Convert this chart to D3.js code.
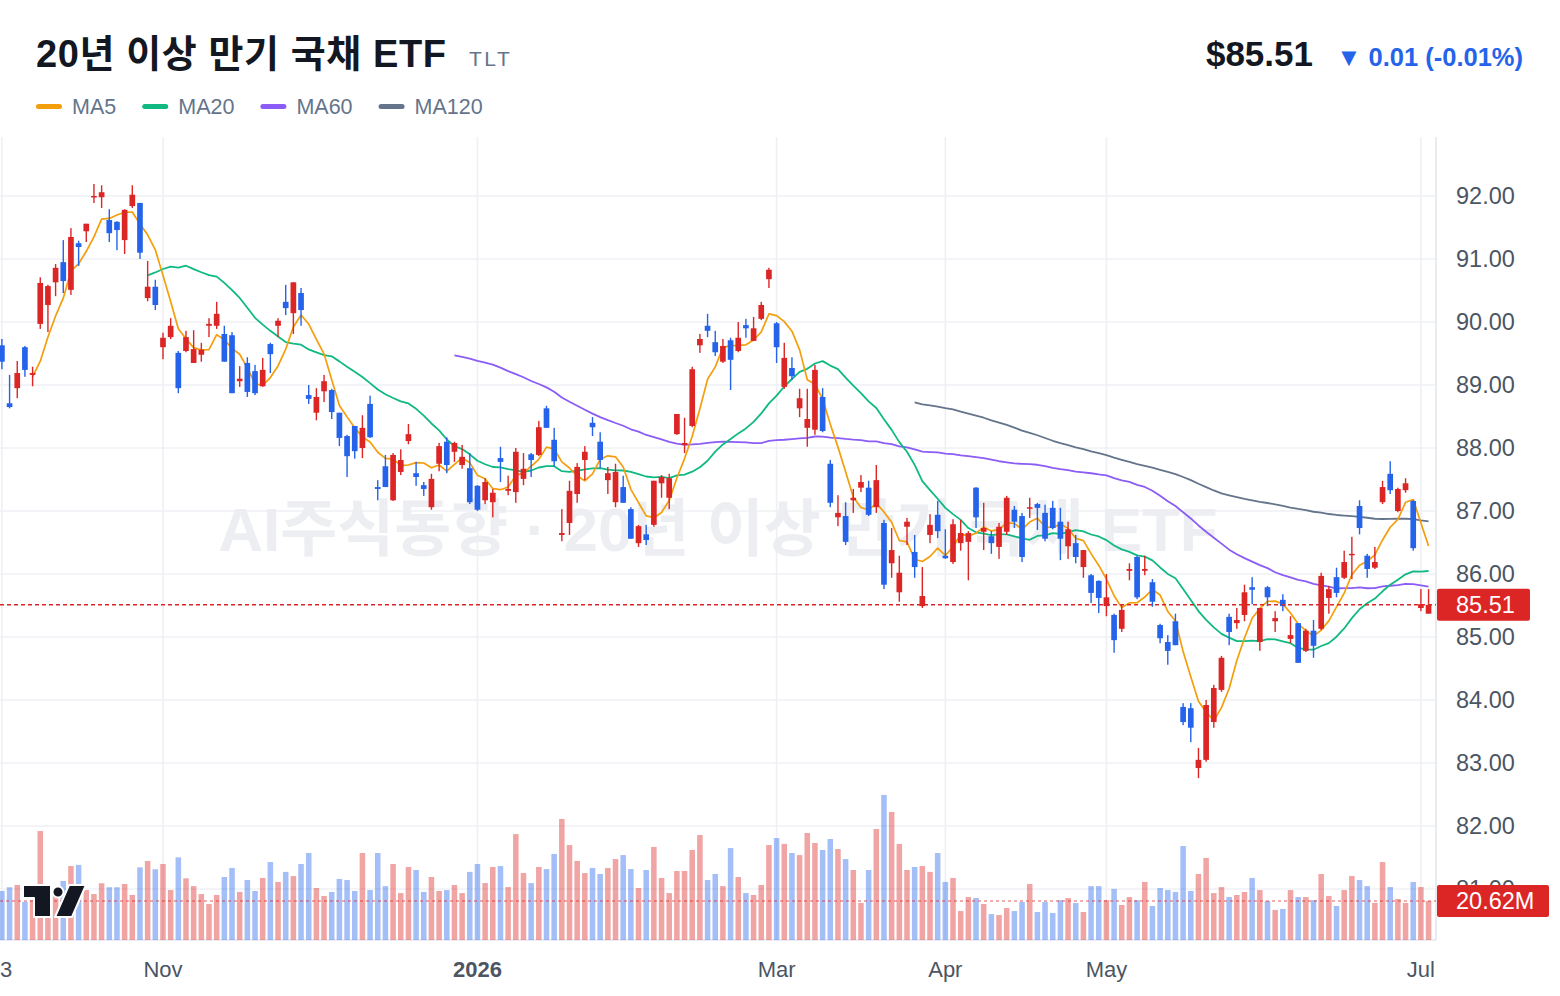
<!DOCTYPE html>
<html lang="ko">
<head>
<meta charset="UTF-8">
<title>TLT</title>
<script src="https://d3js.org/d3.v7.min.js"></script>
<style>
  html, body { margin: 0; padding: 0; background: #fff; }
  svg { display: block; font-family: "Liberation Sans", Arial, "Noto Sans CJK KR", sans-serif; }
  .grid line { stroke: #eef0f4; stroke-width: 1.6; }
  .ylab { fill: #4b5563; font-size: 23.5px; }
  .xlab { fill: #4b5563; font-size: 22px; }
</style>
</head>
<body>
<div id="chart"></div>
<script>
// daily candles, Oct 3 2025 .. Jul 2 2026
const open = [89.63,88.71,88.95,89.60,89.16,89.97,90.27,90.63,90.95,90.51,91.25,91.44,91.98,91.98,91.62,91.59,91.30,91.84,91.89,90.38,
  90.56,89.60,89.76,89.51,89.54,89.35,89.48,89.94,89.94,89.81,89.79,89.06,89.35,89.22,88.98,89.65,89.94,90.32,90.14,90.46,
  88.84,88.56,88.90,88.92,88.56,88.19,88.35,88.00,88.70,87.38,87.71,87.17,87.62,88.11,87.60,87.41,87.06,87.75,88.10,87.94,
  87.73,87.68,87.40,87.17,87.14,87.84,87.32,87.30,87.51,87.90,87.89,88.63,88.13,86.62,86.81,87.27,87.81,88.40,88.10,87.49,
  87.14,87.38,87.03,86.49,86.63,86.78,87.44,87.21,88.22,88.05,88.35,89.63,89.94,89.68,89.37,89.71,89.54,89.95,89.70,90.05,
  90.68,89.98,88.97,89.27,88.63,88.32,88.29,88.81,87.75,86.90,86.92,87.17,87.37,87.37,87.06,86.81,86.17,85.71,86.75,86.35,
  85.49,86.62,86.94,86.29,86.19,86.49,86.51,87.37,86.67,86.60,86.43,86.67,87.02,86.92,87.05,87.11,86.97,87.05,86.83,86.44,
  86.49,86.11,85.98,85.89,85.49,85.35,85.13,86.05,86.27,86.05,85.87,85.19,84.92,85.25,83.89,83.87,82.92,83.05,83.65,84.16,
  85.32,85.22,85.35,85.79,84.92,85.79,85.25,85.59,84.97,85.22,84.78,85.10,85.13,85.62,85.95,85.94,86.30,87.08,86.29,86.10,
  87.14,87.59,87.00,87.33,87.16,85.46,85.37];
const high = [89.73,89.16,89.38,89.62,89.29,90.71,90.59,90.92,91.30,91.49,91.29,91.56,92.19,92.17,91.79,91.60,91.79,92.17,91.89,90.97,
  90.67,89.83,90.06,89.54,89.86,89.87,89.67,90.06,90.32,89.94,89.84,89.30,89.44,89.32,89.43,89.67,90.06,90.59,90.63,90.54,
  89.00,88.95,89.16,88.94,88.56,88.21,88.35,88.52,88.83,87.49,87.89,87.92,87.98,88.38,87.78,87.46,87.59,88.08,88.17,88.10,
  88.05,87.92,87.41,87.52,87.35,88.02,87.56,88.00,87.92,87.92,88.43,88.67,88.32,87.03,87.48,87.76,88.03,88.49,88.25,87.70,
  87.75,87.56,87.06,86.78,86.78,87.48,87.57,87.59,88.54,88.48,89.29,89.81,90.13,89.86,89.73,89.75,90.00,90.05,90.08,90.32,
  90.86,90.00,89.67,89.44,88.94,88.94,89.32,88.95,87.81,87.25,87.14,87.35,87.57,87.48,87.73,86.86,86.73,86.29,86.89,86.62,
  86.11,86.95,87.16,86.71,86.87,86.86,86.68,87.38,87.13,86.68,86.81,87.24,87.08,86.97,87.21,87.13,87.10,87.16,87.05,86.83,
  86.62,86.38,86.00,85.90,86.00,85.37,85.52,86.17,86.29,86.29,85.92,85.21,85.03,85.37,83.95,83.95,83.24,84.00,84.24,84.70,
  85.37,85.46,85.83,85.95,85.46,85.81,85.41,85.68,85.33,85.22,85.13,85.27,86.02,85.81,86.10,86.37,86.59,87.17,86.32,86.43,
  87.48,87.79,87.37,87.52,87.17,85.76,85.76];
const low = [89.25,88.63,88.79,89.13,88.98,89.89,89.84,90.41,90.46,90.43,90.89,91.27,91.89,91.81,91.27,91.14,91.08,91.81,91.00,90.33,
  90.19,89.41,89.73,88.87,89.52,89.35,89.37,89.76,89.89,89.37,88.87,88.97,88.81,88.84,88.97,89.19,89.76,90.11,89.81,89.94,
  88.70,88.44,88.73,88.46,88.03,87.54,87.83,87.84,88.16,87.17,87.38,87.16,87.57,88.06,87.40,87.24,87.02,87.63,87.60,87.78,
  87.67,87.11,87.00,87.11,86.90,87.46,87.25,87.13,87.41,87.54,87.87,88.32,87.71,86.52,86.62,87.13,87.49,88.19,87.68,87.27,
  87.06,87.13,86.56,86.43,86.46,86.75,87.21,87.03,88.21,87.92,88.33,89.51,89.76,89.46,89.35,88.92,89.52,89.75,89.70,90.03,
  90.54,89.35,88.94,89.08,88.49,88.02,88.21,88.25,87.06,86.76,86.46,86.97,87.30,86.92,86.97,85.76,85.94,85.56,86.46,85.94,
  85.46,86.49,86.57,86.24,86.16,86.37,85.90,86.73,86.38,86.32,86.24,86.62,86.73,86.19,86.89,86.70,86.52,86.71,86.22,86.24,
  86.17,85.94,85.54,85.38,85.33,84.75,85.08,85.90,85.60,85.98,85.48,84.90,84.56,84.87,83.60,83.33,82.76,83.02,83.56,84.13,
  84.87,85.13,85.25,85.52,84.78,85.49,85.08,85.41,84.90,84.59,84.76,84.67,85.11,85.37,85.63,85.92,85.92,86.63,85.94,86.08,
  87.11,87.27,86.98,87.29,86.37,85.41,85.37];
const close = [89.37,88.65,89.19,89.24,89.19,90.62,90.57,90.86,90.65,91.35,91.19,91.56,92.00,92.06,91.41,91.46,91.78,92.02,91.10,90.56,
  90.27,89.75,89.94,88.95,89.76,89.57,89.56,89.97,90.13,89.37,88.87,89.10,88.89,88.87,89.24,89.49,90.02,90.22,90.63,90.19,
  88.78,88.81,89.06,88.57,88.16,87.87,87.95,88.32,88.17,87.35,87.38,87.89,87.81,88.22,87.54,87.35,87.51,88.03,87.73,88.08,
  87.86,87.14,87.02,87.46,87.29,87.78,87.35,87.94,87.67,87.81,88.33,88.32,87.79,86.65,87.32,87.70,87.94,88.33,87.81,87.60,
  87.62,87.13,86.56,86.76,86.54,87.48,87.54,87.52,88.54,88.08,89.25,89.73,89.86,89.52,89.62,89.40,89.75,89.90,89.90,90.27,
  90.83,89.60,89.43,89.14,88.79,88.46,89.24,88.27,87.13,86.97,86.51,87.21,87.46,86.94,87.49,85.83,86.38,86.02,86.83,86.11,
  85.65,86.78,86.68,86.25,86.79,86.65,86.65,86.90,86.73,86.49,86.75,87.21,86.83,86.27,87.06,87.05,86.56,86.73,86.56,86.71,
  86.27,86.38,85.70,85.62,85.63,84.95,85.43,86.08,85.63,86.08,85.56,84.98,84.78,84.87,83.65,83.56,83.05,83.92,84.19,84.67,
  85.08,85.27,85.71,85.75,85.46,85.63,85.30,85.49,85.03,84.59,85.10,84.86,85.97,85.76,85.70,86.19,86.32,86.73,86.08,86.19,
  87.38,87.33,87.35,87.44,86.41,85.52,85.51];
// volume, millions of shares
const volume = [25.9,27.9,29.1,20.2,21.1,57.6,23.8,23.8,31.2,39.1,39.7,26.4,24.3,30.0,27.9,27.9,29.6,23.8,38.4,41.8,
  37.4,40.2,26.4,43.7,32.6,28.5,24.3,19.0,23.8,33.3,38.1,25.4,31.7,25.9,32.8,41.2,30.7,36.0,33.8,40.2,
  46.0,27.5,23.3,25.4,32.3,31.7,25.9,46.0,26.4,46.0,28.5,40.2,24.8,38.6,37.0,25.4,33.3,25.9,26.4,29.1,
  24.8,36.0,40.2,30.1,38.6,39.1,28.0,56.0,35.4,30.1,38.6,37.5,45.5,64.0,50.2,41.8,35.4,38.1,34.9,38.1,
  42.8,44.9,37.5,27.5,37.0,49.2,32.8,24.8,36.5,36.5,47.6,55.5,31.7,34.9,28.5,48.6,33.3,24.8,23.8,29.1,
  50.2,53.9,50.8,46.0,44.9,56.6,51.3,47.6,53.4,48.1,42.8,37.0,19.6,37.0,58.7,76.7,67.7,50.8,37.0,38.6,
  39.1,36.0,46.0,30.7,32.8,15.3,22.7,22.2,19.0,13.7,13.2,16.9,15.3,20.1,29.6,14.8,20.1,14.3,21.1,22.2,
  19.6,14.8,28.5,28.5,21.1,27.0,18.5,22.7,21.1,30.7,18.0,27.5,26.4,25.4,49.7,25.9,34.9,43.4,24.8,28.0,
  22.7,23.8,25.4,32.8,26.4,20.6,15.9,16.4,26.4,22.7,22.7,21.1,34.9,23.3,18.0,26.4,33.8,31.7,28.5,19.6,
  41.2,28.0,21.7,19.6,30.7,28.0,20.62];

const tickIdx = [0, 21, 62, 101, 123, 144, 185];
const tickLabels = ["3", "Nov", "2026", "Mar", "Apr", "May", "Jul"];
const priceTicks = [81, 82, 83, 84, 85, 86, 87, 88, 89, 90, 91, 92];
const maSpecs = [
  {name: "MA5", n: 5, color: "#f59e0b", width: 1.7},
  {name: "MA20", n: 20, color: "#10b981", width: 1.8},
  {name: "MA60", n: 60, color: "#8b5cf6", width: 1.8},
  {name: "MA120", n: 120, color: "#64748b", width: 1.8}
];
const lastPrice = 85.51, lastVol = 20.62;

const UP = "#dc2626", DOWN = "#2563eb";
const W = 1560, H = 996;
const plot = {left: 0, right: 1436, top: 137, bottom: 940};

const svg = d3.select("#chart").append("svg")
    .attr("width", W)
    .attr("height", H);

const x = d3.scaleBand()
    .domain(d3.range(close.length))
    .range([-1.93, 1432.4]);
const step = x.step();
const cx = i => x(i) + step / 2;

const y = d3.scaleLinear().domain([81, 93]).range([889, 133]);
const yVol = d3.scaleLinear().domain([0, 80]).range([plot.bottom, plot.bottom - 80 * 39 / lastVol]);

svg.append("clipPath").attr("id", "clip")
  .append("rect")
    .attr("x", plot.left).attr("y", plot.top)
    .attr("width", plot.right - plot.left).attr("height", plot.bottom - plot.top);

// grid
const grid = svg.append("g").attr("class", "grid");
grid.selectAll(".h").data(priceTicks).enter().append("line")
    .attr("x1", plot.left).attr("x2", plot.right)
    .attr("y1", d => y(d)).attr("y2", d => y(d));
grid.selectAll(".v").data(tickIdx).enter().append("line")
    .attr("x1", d => cx(d)).attr("x2", d => cx(d))
    .attr("y1", plot.top).attr("y2", plot.bottom);
grid.append("line").attr("x1", plot.right).attr("x2", plot.right)
    .attr("y1", plot.top).attr("y2", plot.bottom).style("stroke", "#e3e6ec");
grid.append("line").attr("x1", plot.left).attr("x2", plot.right)
    .attr("y1", plot.bottom).attr("y2", plot.bottom).style("stroke", "#e3e6ec");

// watermark
svg.append("text")
    .attr("x", 718).attr("y", 551)
    .attr("text-anchor", "middle")
    .attr("font-size", 62).attr("font-weight", "bold")
    .attr("fill", "#eceef2")
    .text("AI주식동향 · 20년 이상 만기 국채 ETF");

const g = svg.append("g").attr("clip-path", "url(#clip)");
const isUp = i => close[i] >= open[i];

// volume
g.append("g").selectAll("rect")
    .data(d3.range(volume.length))
    .enter().append("rect")
    .attr("x", i => cx(i) - step * 0.36)
    .attr("width", step * 0.72)
    .attr("y", i => yVol(volume[i]))
    .attr("height", i => plot.bottom - yVol(volume[i]))
    .attr("fill", i => isUp(i) ? UP : DOWN)
    .attr("fill-opacity", 0.42);

g.append("line")
    .attr("x1", plot.left).attr("x2", plot.right)
    .attr("y1", yVol(lastVol)).attr("y2", yVol(lastVol))
    .attr("stroke", UP).attr("stroke-opacity", 0.5)
    .attr("stroke-width", 1.5).attr("stroke-dasharray", "3,3");

// moving averages
function movingAvg(n) {
  const out = [];
  for (let i = n - 1; i < close.length; i++) {
    out.push({i: i, v: d3.mean(close.slice(i - n + 1, i + 1))});
  }
  return out;
}
const line = d3.line().x(d => cx(d.i)).y(d => y(d.v));
maSpecs.slice().reverse().forEach(s => {
  g.append("path")
      .datum(movingAvg(s.n))
      .attr("fill", "none")
      .attr("stroke", s.color)
      .attr("stroke-width", s.width)
      .attr("stroke-linejoin", "round")
      .attr("d", line);
});

// candles
const candle = g.append("g").selectAll("g")
    .data(d3.range(close.length))
    .enter().append("g")
    .attr("fill", i => isUp(i) ? UP : DOWN);
candle.append("rect")
    .attr("x", i => cx(i) - 0.7)
    .attr("width", 1.4)
    .attr("y", i => y(high[i]))
    .attr("height", i => Math.max(1, y(low[i]) - y(high[i])));
candle.append("rect")
    .attr("x", i => cx(i) - step * 0.37)
    .attr("width", step * 0.74)
    .attr("y", i => y(Math.max(open[i], close[i])))
    .attr("height", i => Math.max(1.5, Math.abs(y(open[i]) - y(close[i]))));

// last price line
g.append("line")
    .attr("x1", plot.left).attr("x2", plot.right)
    .attr("y1", y(lastPrice)).attr("y2", y(lastPrice))
    .attr("stroke", UP).attr("stroke-width", 1.5).attr("stroke-dasharray", "4,3");

// right axis labels
svg.append("g").selectAll("text")
    .data(priceTicks).enter().append("text")
    .attr("class", "ylab")
    .attr("x", 1456).attr("y", d => y(d))
    .attr("dy", "0.36em")
    .text(d => d.toFixed(2));

function tag(yPos, label, w) {
  svg.append("rect")
      .attr("x", 1437).attr("y", yPos - 16)
      .attr("width", w).attr("height", 32)
      .attr("rx", 2).attr("fill", UP);
  svg.append("text")
      .attr("x", 1456).attr("y", yPos)
      .attr("dy", "0.36em")
      .attr("fill", "#fff").attr("font-size", 23.5)
      .text(label);
}
tag(y(lastPrice), lastPrice.toFixed(2), 93);
tag(yVol(lastVol), lastVol.toFixed(2) + "M", 112);

// x axis labels (first one sits against the left edge)
svg.append("g").selectAll("text")
    .data(tickIdx).enter().append("text")
    .attr("class", "xlab")
    .attr("x", (d, k) => k === 0 ? 0 : cx(d)).attr("y", 977)
    .attr("text-anchor", (d, k) => k === 0 ? "start" : "middle")
    .attr("font-weight", (d, k) => tickLabels[k] === "2026" ? "bold" : null)
    .text((d, k) => tickLabels[k]);

// logo
const logo = svg.append("g")
    .attr("fill", "#131722").attr("stroke", "#fff").attr("stroke-width", 2)
    .attr("stroke-linejoin", "round");
logo.append("path").attr("d", "M23,885 H51 V917 H34 V898 H23 Z");
logo.append("circle").attr("cx", 58).attr("cy", 892).attr("r", 5.5);
logo.append("path").attr("d", "M69,885 H86 L72,917 H55 Z");

// header
svg.append("text")
    .attr("x", 36).attr("y", 67)
    .attr("font-size", 38).attr("font-weight", "bold")
    .attr("letter-spacing", 0.6)
    .attr("fill", "#131722")
    .text("20년 이상 만기 국채 ETF");
svg.append("text")
    .attr("x", 469).attr("y", 66)
    .attr("font-size", 21).attr("letter-spacing", 2.5)
    .attr("fill", "#64748b")
    .text("TLT");
svg.append("text")
    .attr("x", 1313).attr("y", 66)
    .attr("text-anchor", "end")
    .attr("font-size", 35).attr("font-weight", "bold")
    .attr("fill", "#131722")
    .text("$" + lastPrice.toFixed(2));
svg.append("text")
    .attr("x", 1523).attr("y", 66)
    .attr("text-anchor", "end")
    .attr("font-size", 25.5).attr("font-weight", "bold")
    .attr("fill", DOWN)
    .text("▼ 0.01 (-0.01%)");

// legend
let lx = 36;
maSpecs.forEach(s => {
  svg.append("rect")
      .attr("x", lx).attr("y", 104)
      .attr("width", 26).attr("height", 5).attr("rx", 2.5)
      .attr("fill", s.color);
  const t = svg.append("text")
      .attr("x", lx + 36).attr("y", 106)
      .attr("dy", "0.36em")
      .attr("font-size", 21.5).attr("fill", "#64748b")
      .text(s.name);
  lx += 36 + t.node().getComputedTextLength() + 26;
});
</script>
</body>
</html>
